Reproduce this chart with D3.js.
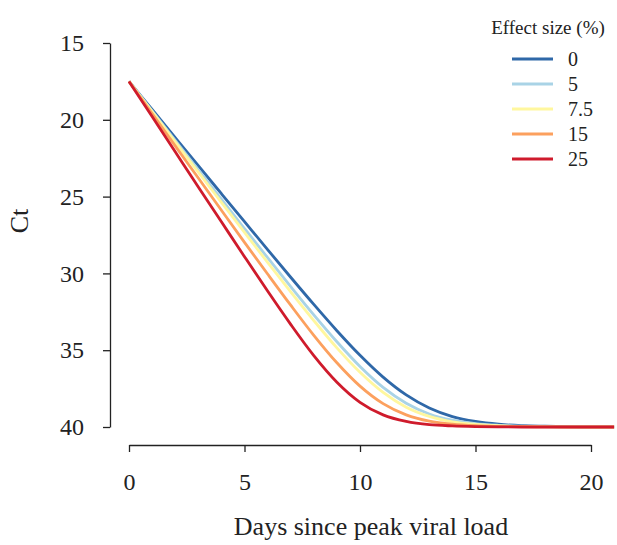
<!DOCTYPE html>
<html><head><meta charset="utf-8">
<script src="https://cdn.jsdelivr.net/npm/d3@7"></script>
<style>body{margin:0;background:#fff}svg{display:block}</style>
</head><body>
<svg id="chart" width="617" height="545"></svg>
<script>
const days = [0,1,2,3,4,5,6,7,8,9,10,11,12,13,14,15,16,17,18,19,20,21];
const effectLabels = ["0","5","7.5","15","25"];
const seriesColors = ["#2f68a8","#a9d3e6","#fff79e","#fca05e","#cf1b2c"];
const ct0   = [17.5,19.33,21.16,22.99,24.81,26.63,28.45,30.25,32.02,33.73,35.33,36.75,37.91,38.76,39.32,39.64,39.82,39.91,39.95,39.98,39.99,40.0];
const ct5   = [17.5,19.42,21.34,23.26,25.17,27.08,28.98,30.86,32.70,34.45,36.06,37.42,38.45,39.15,39.56,39.78,39.89,39.95,39.98,39.99,40.0,40.0];
const ct7_5 = [17.5,19.47,21.44,23.41,25.37,27.33,29.28,31.20,33.07,34.85,36.44,37.75,38.71,39.31,39.66,39.83,39.92,39.96,39.98,39.99,40.0,40.0];
const ct15  = [17.5,19.6,21.7,23.79,25.89,27.98,30.04,32.07,34.03,35.82,37.34,38.48,39.21,39.62,39.82,39.92,39.96,39.98,39.99,40.0,40.0,40.0];
const ct25  = [17.5,19.79,22.08,24.37,26.64,28.91,31.15,33.32,35.35,37.08,38.39,39.21,39.64,39.85,39.93,39.97,39.99,40.0,40.0,40.0,40.0,40.0];
const seriesValues = [ct0, ct5, ct7_5, ct15, ct25];
const xTicks = [0,5,10,15,20];
const yTicks = [15,20,25,30,35,40];

const svg = d3.select("#chart");
const font = "'Liberation Serif','Times New Roman',serif";
const x = d3.scaleLinear().domain([0,20]).range([129,591]);
const y = d3.scaleLinear().domain([15,40]).range([43,427]);

// y axis
const yAxis = svg.append("g").attr("transform","translate(110,0)")
  .call(d3.axisLeft(y).tickValues(yTicks).tickSize(7).tickSizeOuter(0).tickPadding(19));
yAxis.select(".domain").attr("stroke","#222").attr("stroke-width",1.3);
yAxis.selectAll(".tick line").attr("stroke","#222").attr("stroke-width",1.3);
yAxis.selectAll(".tick text").attr("font-family",font).attr("font-size",24).attr("fill","#222");

// x axis
const xAxis = svg.append("g").attr("transform","translate(0,445)")
  .call(d3.axisBottom(x).tickValues(xTicks).tickSize(7).tickSizeOuter(0).tickPadding(21));
xAxis.select(".domain").attr("stroke","#222").attr("stroke-width",1.3);
xAxis.selectAll(".tick line").attr("stroke","#222").attr("stroke-width",1.3);
xAxis.selectAll(".tick text").attr("font-family",font).attr("font-size",24).attr("fill","#222");

// titles
svg.append("text").attr("transform","translate(28,221) rotate(-90)")
  .attr("text-anchor","middle").attr("font-family",font).attr("font-size",26).attr("fill","#222").text("Ct");
svg.append("text").attr("x",371).attr("y",535)
  .attr("text-anchor","middle").attr("font-family",font).attr("font-size",26).attr("fill","#222").text("Days since peak viral load");

// lines
svg.append("clipPath").attr("id","clip").append("rect").attr("x",0).attr("y",0).attr("width",615).attr("height",545);
const line = d3.line().x((d,i)=>x(days[i])).y(d=>y(d)).curve(d3.curveMonotoneX);
const g = svg.append("g").attr("clip-path","url(#clip)");
seriesValues.forEach((vals,k)=>{
  g.append("path").datum(vals).attr("d",line).attr("fill","none")
    .attr("stroke",seriesColors[k]).attr("stroke-width",2.8).attr("stroke-linejoin","round");
});

// legend
svg.append("text").attr("x",548).attr("y",34).attr("text-anchor","middle")
  .attr("font-family",font).attr("font-size",19).attr("fill","#222").text("Effect size (%)");
const lg = svg.append("g");
effectLabels.forEach((lab,k)=>{
  const yy = 59 + k*25;
  lg.append("line").attr("x1",512).attr("x2",553).attr("y1",yy).attr("y2",yy)
    .attr("stroke",seriesColors[k]).attr("stroke-width",3);
  lg.append("text").attr("x",568).attr("y",yy).attr("dy","0.35em")
    .attr("font-family",font).attr("font-size",20).attr("fill","#222").text(lab);
});
</script>
</body></html>
